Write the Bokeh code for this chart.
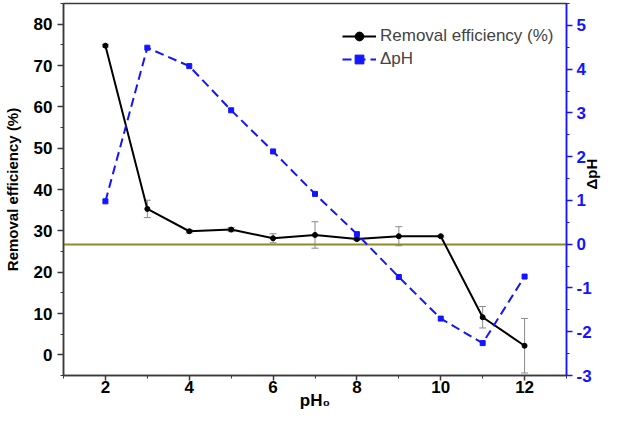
import math
from bokeh.plotting import figure
from bokeh.models import (ColumnDataSource, Range1d, LinearAxis, Whisker, TeeHead,
                          SingleIntervalTicker, Legend, NumeralTickFormatter)
from bokeh.embed import file_html
from bokeh.resources import INLINE

ph = [2, 3, 4, 5, 6, 7, 8, 9, 10, 11, 12]
removal = [74.8, 35.3, 29.9, 30.3, 28.2, 29.0, 28.0, 28.7, 28.7, 9.1, 2.2]
removal_err = [0.3, 2.1, 0.4, 0.5, 1.1, 3.2, 0.3, 2.3, 0.2, 2.6, 6.6]
delta_ph = [0.98, 4.49, 4.07, 3.06, 2.12, 1.15, 0.23, -0.75, -1.70, -2.26, -0.74]
ref_dph = [0]

FONT = "Liberation Sans"
BLUE = "#1414ff"
AXC = "#3a3a3a"

src = ColumnDataSource(dict(
    x=ph, y=removal,
    upper=[v + e for v, e in zip(removal, removal_err)],
    lower=[v - e for v, e in zip(removal, removal_err)],
    d=delta_ph,
))

p = figure(width=611, height=415, output_backend="svg", toolbar_location=None,
           x_range=Range1d(1, 13), y_range=Range1d(-5, 85),
           min_border_left=59, min_border_top=3, min_border_right=30, min_border_bottom=40)
p.extra_y_ranges = {"dph": Range1d(-3, 5.5)}
p.grid.visible = False
p.outline_line_color = AXC
p.outline_line_width = 1.5
p.background_fill_color = "white"
p.border_fill_color = "white"

def style(ax, color, interval):
    ax.ticker = SingleIntervalTicker(interval=interval, num_minor_ticks=2)
    ax.formatter = NumeralTickFormatter(format="0")
    ax.axis_line_color = color
    ax.axis_line_width = 1.5
    ax.major_tick_line_color = color
    ax.minor_tick_line_color = color
    ax.major_tick_line_width = 1.5
    ax.major_tick_out = 6
    ax.major_tick_in = 0
    ax.minor_tick_out = 3
    ax.minor_tick_in = 0
    ax.major_label_text_font = FONT
    ax.major_label_text_font_style = "bold"
    ax.major_label_text_font_size = "17px"
    ax.major_label_text_color = color if color == BLUE else "black"
    ax.axis_label_text_font = FONT
    ax.axis_label_text_font_style = "bold"
    ax.axis_label_text_color = "black"

style(p.xaxis[0], AXC, 2)
p.xaxis[0].axis_label = "pH\u2080"
p.xaxis[0].axis_label_text_font_size = "17px"
p.xaxis[0].major_tick_out = 5
p.xaxis[0].axis_label_standoff = -5
p.xaxis[0].major_label_standoff = 0

style(p.yaxis[0], AXC, 10)
p.yaxis[0].axis_label = "Removal efficiency (%)"
p.yaxis[0].axis_label_text_font_size = "15px"
p.yaxis[0].axis_label_standoff = 10
p.yaxis[0].major_label_standoff = 5

rax = LinearAxis(y_range_name="dph")
style(rax, BLUE, 1)
rax.major_label_standoff = 4
rax.axis_label = "\u0394pH"
rax.axis_label_text_font_size = "15px"
rax.axis_label_standoff = -3
if "axis_label_orientation" in rax.properties():
    rax.axis_label_orientation = math.pi / 2
p.add_layout(rax, "right")

# reference line at delta pH = 0
p.hspan(y=ref_dph, y_range_name="dph", line_color="#8c8c2a", line_width=2)

p.add_layout(Whisker(source=src, base="x", upper="upper", lower="lower",
                     line_color="#8a8a8a", line_width=1,
                     upper_head=TeeHead(size=7, line_color="#8a8a8a", line_width=1),
                     lower_head=TeeHead(size=7, line_color="#8a8a8a", line_width=1)))

r1 = p.line("x", "y", source=src, line_color="black", line_width=2)
r1m = p.scatter("x", "y", source=src, marker="circle", size=5, color="black")
r2 = p.line("x", "d", source=src, y_range_name="dph", line_color=BLUE, line_width=2,
            line_dash="9 5")
r2m = p.scatter("x", "d", source=src, y_range_name="dph", marker="square", size=5,
                color=BLUE)

leg = Legend(items=[("Removal efficiency (%)", [r1, r1m]), ("\u0394pH", [r2, r2m])],
             location=(279, 305))
leg.border_line_color = None
leg.background_fill_alpha = 0
leg.label_text_font = FONT
leg.label_text_font_size = "17px"
leg.glyph_width = 34
leg.glyph_height = 22
leg.label_height = 22
leg.spacing = 1
leg.label_standoff = 4
leg.margin = 0
leg.padding = 5
p.add_layout(leg)

open("out.html", "w").write(file_html(p, INLINE))
